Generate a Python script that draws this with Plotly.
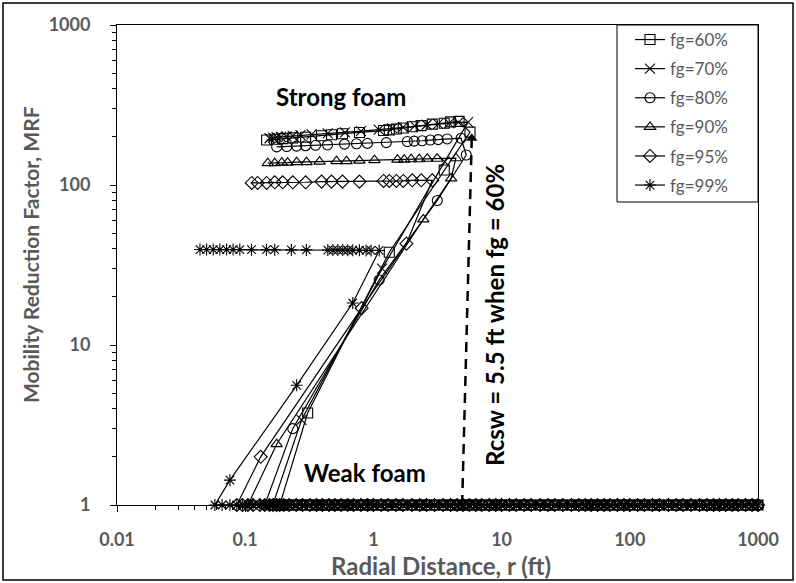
import plotly.graph_objects as go

# ---------------- data ----------------
series_names = ["fg=60%", "fg=70%", "fg=80%", "fg=90%", "fg=95%", "fg=99%"]

# strong-foam plateau (r in ft, MRF)
r_plateau_60 = [0.147, 0.17, 0.196, 0.235, 0.296, 0.394, 0.471, 0.574, 0.778, 1.2, 1.33, 1.51, 1.71, 2.01, 2.36, 2.88, 3.57, 4.0, 4.66]
m_plateau_60 = [191, 193, 195, 197, 199, 203, 206, 209, 213, 219, 221, 224, 227, 231, 235, 240, 243, 248, 250]
r_plateau_70 = [0.155, 0.165, 0.176, 0.19, 0.21, 0.235, 0.27, 0.33, 0.44, 0.6, 0.8, 1.1, 1.4, 1.7, 2.1, 2.6, 3.2, 3.9, 4.6, 5.48]
m_plateau_70 = [196, 198, 199, 200, 201, 203, 205, 207, 210, 213, 217, 222, 226, 230, 234, 238, 241, 244, 246, 247]
r_plateau_80 = [0.176, 0.211, 0.252, 0.296, 0.354, 0.439, 0.595, 0.738, 0.898, 1.26, 1.84, 2.08, 2.40, 2.78, 3.2, 3.76, 4.83]
m_plateau_80 = [173, 174, 175, 176, 177, 178, 180, 181, 182, 184, 187, 188, 189, 191, 192, 194, 196]
r_plateau_90 = [0.150, 0.170, 0.193, 0.214, 0.252, 0.301, 0.380, 0.516, 0.617, 0.778, 1.02, 1.54, 1.74, 1.97, 2.28, 2.63, 3.14, 4.4]
m_plateau_90 = [137, 137, 138, 138, 139, 139, 140, 141, 141, 142, 143, 144, 144, 145, 145, 146, 146, 147]
r_plateau_95 = [0.1125, 0.125, 0.147, 0.170, 0.196, 0.235, 0.296, 0.394, 0.471, 0.574, 0.778, 1.20, 1.33, 1.51, 1.71, 2.01, 2.36, 2.88]
m_plateau_95 = [103, 103, 103, 104, 104, 104, 104, 105, 105, 105, 105, 106, 106, 106, 106, 107, 107, 107]
r_plateau_99 = [0.0444, 0.050, 0.0563, 0.0634, 0.0716, 0.0805, 0.0908, 0.112, 0.1465, 0.170, 0.229, 0.300, 0.441, 0.483, 0.528, 0.577, 0.631, 0.690, 0.778, 0.877, 0.959, 1.11]
m_plateau_99 = [39.5, 39.5, 39.5, 39.5, 39.5, 39.5, 39.5, 39.4, 39.4, 39.4, 39.3, 39.3, 39.2, 39.2, 39.2, 39.2, 39.1, 39.1, 39.1, 39.0, 39.0, 39.0]

# transition (strong -> weak foam), ending at MRF = 1
r_trans_60 = [5.67, 3.57, 1.33, 0.307, 0.186]
m_trans_60 = [214, 124, 38, 3.76, 1]
r_trans_70 = [3.6, 1.17, 0.275, 0.164]
m_trans_70 = [140, 30, 3.4, 1]
r_trans_80 = [5.3, 3.15, 1.11, 0.235, 0.142]
m_trans_80 = [154, 80, 25.5, 3.0, 1]
r_trans_90 = [4.04, 2.45, 0.176, 0.105]
m_trans_90 = [110, 61, 2.4, 1]
r_trans_95 = [1.81, 0.81, 0.132, 0.086]
m_trans_95 = [43, 17, 2.0, 1]
r_trans_99 = [0.69, 0.252, 0.076, 0.058]
m_trans_99 = [18.3, 5.6, 1.43, 1]

# weak-foam region: points lying on MRF = 1 out to 1000 ft
r_weak = [0.058, 0.066, 0.076, 0.086, 0.095,
          0.105, 0.115, 0.13, 0.142, 0.155, 0.165, 0.176, 0.186, 0.2, 0.22, 0.25, 0.28, 0.32, 0.36,
          0.4, 0.45, 0.5, 0.56, 0.63, 0.7, 0.8, 0.9,
          1.0, 1.15, 1.3, 1.5, 1.7, 2.0, 2.3, 2.6, 3.0, 3.5, 4.0, 4.5, 5.0, 5.6, 6.3, 7.0, 8.0, 9.0,
          10, 11.5, 13, 15, 17, 20, 23, 26, 30, 35, 40, 45, 50, 56, 63, 70, 80, 90,
          100, 115, 130, 150, 170, 200, 230, 260, 300, 350, 400, 450, 500, 560, 630, 700, 800, 900, 1000]
mrf_weak = 1.0

# annotation arrow (Rcsw for fg = 60%)
arrow_r = [4.92, 5.85]
arrow_m = [1, 196]

x_tickvals = [0.01, 0.1, 1, 10, 100, 1000]
x_ticktext = ["0.01", "0.1", "1", "10", "100", "1000"]
y_tickvals = [1, 10, 100, 1000]
y_ticktext = ["1", "10", "100", "1000"]

symbols = ["square-open", "x-thin-open", "circle-open", "triangle-up-open", "diamond-open", "asterisk-open"]
plateaus = [(r_plateau_60, m_plateau_60), (r_plateau_70, m_plateau_70), (r_plateau_80, m_plateau_80),
            (r_plateau_90, m_plateau_90), (r_plateau_95, m_plateau_95), (r_plateau_99, m_plateau_99)]
transitions = [(r_trans_60, m_trans_60), (r_trans_70, m_trans_70), (r_trans_80, m_trans_80),
               (r_trans_90, m_trans_90), (r_trans_95, m_trans_95), (r_trans_99, m_trans_99)]

GRAY = "#595959"
FONT = "Lato"

fig = go.Figure()
for i, name in enumerate(series_names):
    rp, mp = plateaus[i]
    rt, mt = transitions[i]
    r_low = rt[-1]
    rw = [r for r in r_weak if r > r_low * 1.04]
    xs = list(rp) + list(rt) + rw
    ys = list(mp) + list(mt) + [mrf_weak] * len(rw)
    fig.add_trace(go.Scatter(
        x=xs, y=ys, mode="lines+markers", name=name,
        legendgroup=name,
        line=dict(color="black", width=1.2),
        marker=dict(symbol=symbols[i], size=10, color="black",
                    line=dict(color="black", width=1.1)),
        cliponaxis=False,
    ))

# dashed arrow
fig.add_trace(go.Scatter(
    x=arrow_r, y=arrow_m, mode="lines", showlegend=False, hoverinfo="skip",
    line=dict(color="black", width=2.5, dash="10px,7px"), cliponaxis=False))
fig.add_trace(go.Scatter(
    x=[arrow_r[-1]], y=[arrow_m[-1]], mode="markers", showlegend=False, hoverinfo="skip",
    marker=dict(symbol="triangle-up", size=10, color="black"), cliponaxis=False))

PL, PR, PT, PB = 117, 758, 25, 505
W, H = 796, 583
pw, ph = PR - PL, PB - PT

def px(x):
    return (x - PL) / pw

def py(y):
    return (PB - y) / ph

axis_common = dict(
    type="log", showline=True, linecolor="black", linewidth=1, mirror=True,
    showgrid=False, zeroline=False, ticks="outside", ticklen=6, tickcolor="black",
    tickfont=dict(family=FONT, size=18, color=GRAY, weight="bold"),
    minor=dict(ticks="outside", ticklen=4, tickcolor="black", dtick="D1", showgrid=False),
)
fig.update_xaxes(range=[-2, 3], tickvals=x_tickvals, ticktext=x_ticktext,
                 ticklabelstandoff=12, **axis_common)
fig.update_yaxes(range=[0, 3], tickvals=y_tickvals, ticktext=y_ticktext,
                 ticklabelstandoff=16, **axis_common)

def label(text, x, y, size, color, angle=0):
    return dict(text=text, x=px(x), y=py(y), xref="paper", yref="paper", showarrow=False,
                xanchor="center", yanchor="middle", textangle=angle,
                font=dict(family=FONT, size=size, color=color, weight="bold"))

annotations = [
    label("Strong foam", 341, 96, 24, "black"),
    label("Weak foam", 365, 472, 24, "black"),
    label("Rcsw = 5.5 ft when fg = 60%", 494, 315, 24, "black", -90),
    label("Mobility Reduction Factor, MRF", 30, 254, 21, GRAY, -90),
    label("Radial Distance, r (ft)", 441, 565, 24, GRAY),
]

shapes = [
    # legend frame
    dict(type="rect", xref="paper", yref="paper", x0=px(617), x1=px(PR), y0=py(202), y1=py(PT),
         line=dict(color="black", width=1), fillcolor="rgba(0,0,0,0)"),
    # outer chart frame
    dict(type="rect", xref="paper", yref="paper", x0=px(3), x1=px(793), y0=py(580), y1=py(3),
         line=dict(color="black", width=1.5), fillcolor="rgba(0,0,0,0)"),
]

fig.update_layout(
    width=W, height=H,
    margin=dict(l=PL, r=W - PR, t=PT, b=H - PB, autoexpand=False),
    plot_bgcolor="white", paper_bgcolor="white",
    annotations=annotations, shapes=shapes,
    showlegend=True,
    legend=dict(x=px(630), y=py(22), xanchor="left", yanchor="top",
                bgcolor="rgba(0,0,0,0)", borderwidth=0, tracegroupgap=4,
                font=dict(family=FONT, size=17, color=GRAY)),
)

fig.write_html("out.html", config={"displayModeBar": False},
               post_script="document.body.style.margin='0px';document.body.style.overflow='hidden';")
